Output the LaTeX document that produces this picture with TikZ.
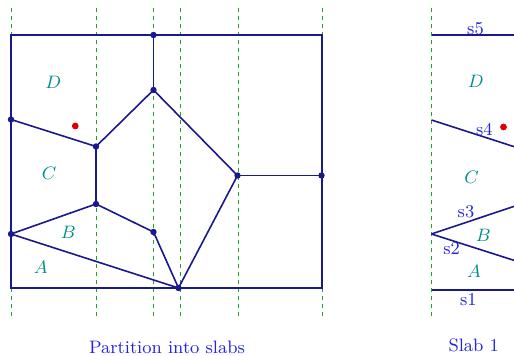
\documentclass[tikz,border=0pt]{standalone}
\begin{document}
\begin{tikzpicture}[x=0.5pt,y=-0.5pt,
  edge/.style={draw=navyc,line width=0.8pt},
  boxline/.style={draw=navyc,line width=1pt},
  slabline/.style={draw=greenc,line width=0.5pt,dash pattern=on 2pt off 2pt},
  vdot/.style={circle,fill=navyc,inner sep=0pt,minimum size=3.2pt},
  rdot/.style={circle,fill=redc,inner sep=0pt,minimum size=3.4pt},
  region/.style={text=tealc,font=\fontsize{9}{10}\selectfont,inner sep=0pt},
  seglab/.style={text=bluec,font=\fontsize{9}{10}\selectfont,inner sep=0pt},
  caption/.style={text=bluec,font=\fontsize{9}{10}\selectfont,inner sep=0pt}]
\definecolor{navyc}{RGB}{25,25,140}
\definecolor{bluec}{RGB}{35,35,225}
\definecolor{tealc}{RGB}{0,140,140}
\definecolor{greenc}{RGB}{40,160,40}
\definecolor{redc}{RGB}{220,0,0}
\useasboundingbox (0,0) rectangle (514,356);
\clip (0,0) rectangle (514,356);
% slab boundaries
\foreach \x/\n in {11/a,96/b,153.5/c,180.5/d,238/e,322/f,431.5/g}{
  \coordinate (st\n) at (\x,8);
  \coordinate (sb\n) at (\x,318);
  \draw[slabline] (st\n) -- (sb\n);
}
% left figure: box
\coordinate (tl) at (11,35);
\coordinate (tr) at (322,35);
\coordinate (br) at (322,288.5);
\coordinate (bl) at (11,288.5);
\draw[boxline] (tl) -- (tr) -- (br) -- (bl) -- cycle;
% vertices
\node[vdot] (v1) at (153.5,35) {};
\node[vdot] (v2) at (153.5,90) {};
\node[vdot] (v3) at (11,119.5) {};
\node[vdot] (v4) at (96,146.5) {};
\node[vdot] (v5) at (237.5,175.5) {};
\node[vdot] (v6) at (321.5,175.5) {};
\node[vdot] (v7) at (96,204) {};
\node[vdot] (v8) at (11,234) {};
\node[vdot] (v9) at (153.5,232) {};
\node[vdot] (v10) at (178.5,288) {};
\draw[edge] (v1.center) -- (v2.center);
\draw[edge] (v2.center) -- (v4.center);
\draw[edge] (v3.center) -- (v4.center);
\draw[edge] (v4.center) -- (v7.center);
\draw[edge] (v2.center) -- (v5.center);
\draw[edge] (v5.center) -- (v6.center);
\draw[edge] (v5.center) -- (v10.center);
\draw[edge] (v8.center) -- (v7.center);
\draw[edge] (v7.center) -- (v9.center);
\draw[edge] (v9.center) -- (v10.center);
\draw[edge] (v8.center) -- (v10.center);
\node[rdot] (q1) at (75.3,126) {};
\node[region] (lD) at (53.3,82.5) {$D$};
\node[region] (lC) at (49,173.5) {$C$};
\node[region] (lB) at (68.3,232.5) {$B$};
\node[region] (lA) at (40.7,267) {$A$};
\node[caption] (cap1) at (167,347) {Partition into slabs};
% right figure: slab 1
\coordinate (s5a) at (431.5,35.3);
\coordinate (s5b) at (516,35.3);
\coordinate (s4a) at (431.5,120);
\coordinate (s4b) at (516,147.3);
\coordinate (s23) at (431.5,234);
\coordinate (s3b) at (516,205.7);
\coordinate (s2b) at (516,261);
\coordinate (s1a) at (431.5,290.5);
\coordinate (s1b) at (516,290.5);
\draw[boxline] (s5a) -- (s5b);
\draw[edge] (s4a) -- (s4b);
\draw[edge] (s23) -- (s3b);
\draw[edge] (s23) -- (s2b);
\draw[boxline] (s1a) -- (s1b);
\node[rdot] (q2) at (503.5,127) {};
\node[seglab] (t5) at (475.5,28.5) {s5};
\node[seglab] (t4) at (484.3,129.3) {s4};
\node[seglab] (t3) at (466,211.7) {s3};
\node[seglab] (t2) at (451.7,248.5) {s2};
\node[seglab] (t1) at (468.3,299.5) {s1};
\node[region] (rD) at (475.7,81) {$D$};
\node[region] (rC) at (471.7,177) {$C$};
\node[region] (rB) at (483.3,235) {$B$};
\node[region] (rA) at (474,271.5) {$A$};
\node[caption] (cap2) at (473.7,345) {Slab 1};
\end{tikzpicture}
\end{document}
